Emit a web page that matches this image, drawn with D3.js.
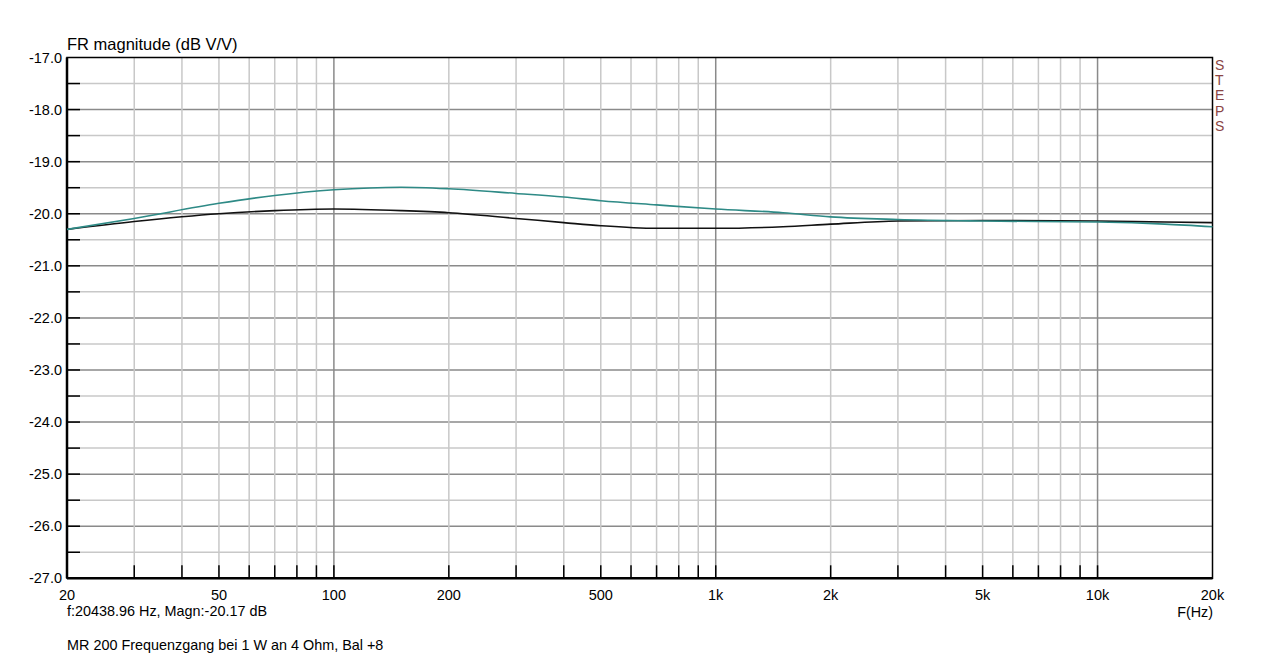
<!DOCTYPE html>
<html>
<head>
<meta charset="utf-8">
<script src="https://cdn.jsdelivr.net/npm/d3@7"></script>
<style>
  body { margin: 0; background: #fff; }
  text { font-family: "Liberation Sans", Arial, sans-serif; fill: #000; }
</style>
</head>
<body>
<div id="chart"></div>
<script>
// frequency points (Hz)
var freqs = [20, 30, 50, 70, 100, 150, 200, 300, 400, 500, 700, 1000, 1500, 2000, 3000, 5000, 10000, 15000, 20000];
// teal curve (dB)
var tealDb = [-20.30, -20.09, -19.80, -19.65, -19.54, -19.49, -19.52, -19.61, -19.68, -19.75, -19.83, -19.91, -19.98, -20.06, -20.11, -20.14, -20.16, -20.20, -20.25];
// black curve (dB)
var blackDb = [-20.30, -20.15, -20.00, -19.94, -19.91, -19.94, -19.98, -20.09, -20.17, -20.23, -20.28, -20.28, -20.25, -20.20, -20.14, -20.13, -20.14, -20.16, -20.17];

var xTickVals = [20, 50, 100, 200, 500, 1000, 2000, 5000, 10000, 20000];
var xTickLabels = ["20", "50", "100", "200", "500", "1k", "2k", "5k", "10k", "20k"];
var yTickVals = [-17, -18, -19, -20, -21, -22, -23, -24, -25, -26, -27];

var svgWidth = 1280;
var svgHeight = 656;

var margin = { top: 57.5, left: 67, right: 67.5, bottom: 77.7 };
var Width = svgWidth - margin.left - margin.right;
var Height = svgHeight - margin.top - margin.bottom;

var svg = d3.select("#chart").append("svg")
  .attr("width", svgWidth)
  .attr("height", svgHeight);

var chartGroup = svg.append("g")
  .attr("transform", `translate(${margin.left},${margin.top})`);

var xScale = d3.scaleLog().domain([20, 20000]).range([0, Width]);
var yScale = d3.scaleLinear().domain([-27, -17]).range([Height, 0]);

// all decade sub-steps for the grid
var minorFreqs = [];
[10, 100, 1000, 10000].forEach(function(dec) {
  for (var k = 1; k <= 9; k++) {
    var f = dec * k;
    if (f > 20 && f < 20000) minorFreqs.push(f);
  }
});
var majorFreqs = [100, 1000, 10000];

// horizontal grid
var halfSteps = d3.range(-26.5, -17, 0.5);
chartGroup.selectAll(".hgrid")
  .data(halfSteps)
  .enter().append("line")
  .attr("x1", 0).attr("x2", Width)
  .attr("y1", d => yScale(d)).attr("y2", d => yScale(d))
  .attr("stroke", d => Number.isInteger(d) ? "#8a8a8a" : "#c8c8c8")
  .attr("stroke-width", 1.5);

// vertical grid
chartGroup.selectAll(".vgrid")
  .data(minorFreqs)
  .enter().append("line")
  .attr("x1", d => xScale(d)).attr("x2", d => xScale(d))
  .attr("y1", 0).attr("y2", Height)
  .attr("stroke", d => majorFreqs.indexOf(d) >= 0 ? "#8a8a8a" : "#c8c8c8")
  .attr("stroke-width", 1.5);

// tick marks on bottom and left
chartGroup.selectAll(".xtick")
  .data(minorFreqs)
  .enter().append("line")
  .attr("x1", d => xScale(d)).attr("x2", d => xScale(d))
  .attr("y1", Height).attr("y2", Height - 13)
  .attr("stroke", "#000").attr("stroke-width", 1.5);

chartGroup.selectAll(".ytick")
  .data(halfSteps)
  .enter().append("line")
  .attr("x1", 0).attr("x2", 13)
  .attr("y1", d => yScale(d)).attr("y2", d => yScale(d))
  .attr("stroke", "#000").attr("stroke-width", 1.5);

// frame
chartGroup.append("rect")
  .attr("x", 0).attr("y", 0)
  .attr("width", Width).attr("height", Height)
  .attr("fill", "none").attr("stroke", "#000").attr("stroke-width", 1.5);
chartGroup.append("line")
  .attr("x1", 0).attr("x2", Width).attr("y1", Height).attr("y2", Height)
  .attr("stroke", "#000").attr("stroke-width", 2.5);
chartGroup.append("line")
  .attr("x1", 0).attr("x2", 0).attr("y1", 0).attr("y2", Height)
  .attr("stroke", "#000").attr("stroke-width", 2.5);

// curves
var line = d3.line()
  .x((d, i) => xScale(freqs[i]))
  .y(d => yScale(d))
  .curve(d3.curveMonotoneX);

chartGroup.append("path")
  .datum(blackDb)
  .attr("d", line)
  .attr("fill", "none").attr("stroke", "#111").attr("stroke-width", 1.6);

chartGroup.append("path")
  .datum(tealDb)
  .attr("d", line)
  .attr("fill", "none").attr("stroke", "#2e8a86").attr("stroke-width", 1.6);

// y labels
chartGroup.selectAll(".ylbl")
  .data(yTickVals)
  .enter().append("text")
  .attr("x", -5)
  .attr("y", d => yScale(d) + 5)
  .attr("text-anchor", "end")
  .style("font-size", "14.5px")
  .text(d => d.toFixed(1));

// x labels
chartGroup.selectAll(".xlbl")
  .data(xTickVals)
  .enter().append("text")
  .attr("x", d => xScale(d))
  .attr("y", Height + 22)
  .attr("text-anchor", "middle")
  .style("font-size", "14.5px")
  .text((d, i) => xTickLabels[i]);

// titles and notes
svg.append("text")
  .attr("x", 67).attr("y", 50)
  .style("font-size", "16.5px")
  .text("FR magnitude (dB V/V)");

svg.append("text")
  .attr("x", 1213).attr("y", 617)
  .attr("text-anchor", "end")
  .style("font-size", "14.3px")
  .text("F(Hz)");

svg.append("text")
  .attr("x", 67).attr("y", 616)
  .style("font-size", "14.4px")
  .text("f:20438.96 Hz, Magn:-20.17 dB");

svg.append("text")
  .attr("x", 67).attr("y", 650)
  .style("font-size", "14.4px")
  .text("MR 200 Frequenzgang bei 1 W an 4 Ohm, Bal +8");

// STEPS vertical legend
var stepsLetters = ["S", "T", "E", "P", "S"];
svg.selectAll(".steps")
  .data(stepsLetters)
  .enter().append("text")
  .attr("x", 1215)
  .attr("y", (d, i) => 70 + i * 15.2)
  .style("font-size", "14px")
  .style("fill", "#8b4545")
  .text(d => d);
</script>
</body>
</html>
